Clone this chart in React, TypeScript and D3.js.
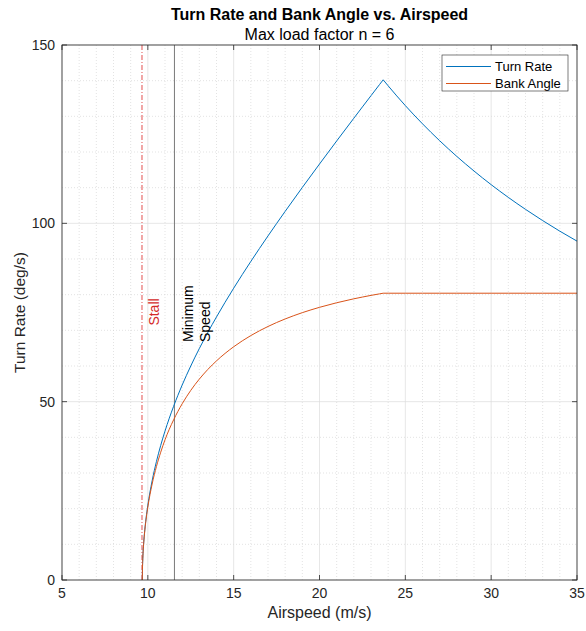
import React from "react";
import * as d3 from "d3";

// ---- data ----
const airspeed = [9.68, 9.69, 9.7, 9.75, 9.8, 9.9, 10, 10.25, 10.5, 10.75, 11, 11.5, 12, 12.5, 13, 13.5, 14, 15, 16, 17, 18, 19, 20, 21, 22, 22.5, 23, 23.5, 23.71, 24, 25, 26, 27, 28, 29, 30, 31, 32, 33, 34, 35];
const turnRate = [0, 3.73, 5.28, 9.86, 12.9, 17.42, 20.96, 27.81, 33.19, 37.74, 41.75, 48.68, 54.66, 60.0, 64.9, 69.46, 73.76, 81.81, 89.32, 96.47, 103.36, 110.07, 116.63, 123.09, 129.47, 132.64, 135.79, 138.93, 140.24, 138.55, 133.01, 127.9, 123.16, 118.76, 114.67, 110.84, 107.27, 103.92, 100.77, 97.8, 95.01];
const bankAngle = [0, 3.68, 5.2, 9.7, 12.67, 17.06, 20.45, 26.9, 31.8, 35.82, 39.3, 44.89, 49.4, 53.16, 56.33, 59.06, 61.44, 65.39, 68.53, 71.08, 73.19, 74.96, 76.45, 77.73, 78.84, 79.33, 79.8, 80.23, 80.41, 80.41, 80.41, 80.41, 80.41, 80.41, 80.41, 80.41, 80.41, 80.41, 80.41, 80.41, 80.41];
const cornerSpeed = 23.71;
const stallSpeed = 9.66;
const minimumSpeed = 11.55;
const xTicks = [5, 10, 15, 20, 25, 30, 35];
const yTicks = [0, 50, 100, 150];
const seriesNames = ["Turn Rate", "Bank Angle"];
const titleText = "Turn Rate and Bank Angle vs. Airspeed";
const subtitleText = "Max load factor n = 6";

const W = 586, H = 631;
const M = { left: 62, right: 9, top: 45, bottom: 51 };
const FONT = "'Liberation Sans', Arial, Helvetica, sans-serif";
const BLUE = "#0072BD";
const ORANGE = "#D95319";
const AX = "#262626";

export default function App() {
  const x = d3.scaleLinear().domain([5, 35]).range([M.left, W - M.right]);
  const y = d3.scaleLinear().domain([0, 150]).range([H - M.bottom, M.top]);
  const x0 = M.left, x1 = W - M.right, y0 = H - M.bottom, y1 = M.top;

  const minorX = d3.range(5, 35.001, 1).filter((v) => v % 5 !== 0);
  const minorY = d3.range(0, 150.001, 10).filter((v) => v % 50 !== 0);

  const pts = (vals: number[]) => airspeed.map((v, i) => [v, vals[i]] as [number, number]);
  const line = d3
    .line<[number, number]>()
    .x((d) => x(d[0]))
    .y((d) => y(d[1]))
    .curve(d3.curveMonotoneX);
  const seg = (vals: number[]) => {
    const p = pts(vals);
    const a = p.filter((d) => d[0] <= cornerSpeed);
    const b = p.filter((d) => d[0] >= cornerSpeed);
    return (line(a) || "") + (line(b) || "");
  };

  return (
    <svg width={W} height={H} style={{ position: "absolute", left: 0, top: 0, background: "#fff" }} fontFamily={FONT}>
      <rect x={0} y={0} width={W} height={H} fill="#fff" />
      {/* minor grid */}
      {minorX.map((v) => (
        <line key={"mx" + v} x1={x(v)} x2={x(v)} y1={y0} y2={y1} stroke="#d0d0d0" strokeWidth={0.6} strokeDasharray="1,2" />
      ))}
      {minorY.map((v) => (
        <line key={"my" + v} x1={x0} x2={x1} y1={y(v)} y2={y(v)} stroke="#d0d0d0" strokeWidth={0.6} strokeDasharray="1,2" />
      ))}
      {/* major grid */}
      {xTicks.map((v) => (
        <line key={"gx" + v} x1={x(v)} x2={x(v)} y1={y0} y2={y1} stroke="#dcdcdc" strokeWidth={0.7} />
      ))}
      {yTicks.map((v) => (
        <line key={"gy" + v} x1={x0} x2={x1} y1={y(v)} y2={y(v)} stroke="#dcdcdc" strokeWidth={0.7} />
      ))}

      {/* stall & minimum speed lines */}
      <line x1={x(stallSpeed)} x2={x(stallSpeed)} y1={y0} y2={y1} stroke="#d22" strokeWidth={0.8} strokeDasharray="5,2,1,2" />
      <line x1={x(minimumSpeed)} x2={x(minimumSpeed)} y1={y0} y2={y1} stroke="#7a7a7a" strokeWidth={1} />

      {/* series */}
      <path d={seg(turnRate)} fill="none" stroke={BLUE} strokeWidth={1} />
      <path d={seg(bankAngle)} fill="none" stroke={ORANGE} strokeWidth={1} />

      {/* annotations */}
      <text transform={`translate(${x(stallSpeed) + 17},${312}) rotate(-90)`} textAnchor="middle" fontSize={14} fill="#d42a2a">
        Stall
      </text>
      <text transform={`translate(${x(minimumSpeed) + 19},${342}) rotate(-90)`} textAnchor="start" fontSize={14} fill="#000">
        Minimum
      </text>
      <text transform={`translate(${x(minimumSpeed) + 36},${342}) rotate(-90)`} textAnchor="start" fontSize={14} fill="#000">
        Speed
      </text>

      {/* axes box */}
      <rect x={x0} y={y1} width={x1 - x0} height={y0 - y1} fill="none" stroke={AX} strokeWidth={0.8} />
      {xTicks.map((v) => (
        <g key={"xt" + v}>
          <line x1={x(v)} x2={x(v)} y1={y0} y2={y0 - 5} stroke={AX} strokeWidth={0.8} />
          <line x1={x(v)} x2={x(v)} y1={y1} y2={y1 + 5} stroke={AX} strokeWidth={0.8} />
          <text x={x(v)} y={y0 + 18} textAnchor="middle" fontSize={14} fill={AX}>
            {v}
          </text>
        </g>
      ))}
      {yTicks.map((v) => (
        <g key={"yt" + v}>
          <line x1={x0} x2={x0 + 5} y1={y(v)} y2={y(v)} stroke={AX} strokeWidth={0.8} />
          <line x1={x1} x2={x1 - 5} y1={y(v)} y2={y(v)} stroke={AX} strokeWidth={0.8} />
          <text x={x0 - 7} y={y(v) + 5} textAnchor="end" fontSize={14} fill={AX}>
            {v}
          </text>
        </g>
      ))}

      {/* axis labels */}
      <text x={(x0 + x1) / 2} y={y0 + 38} textAnchor="middle" fontSize={16} fill={AX}>
        Airspeed (m/s)
      </text>
      <text transform={`translate(${25},${(y0 + y1) / 2}) rotate(-90)`} textAnchor="middle" fontSize={15.5} fill={AX}>
        Turn Rate (deg/s)
      </text>

      {/* titles */}
      <text x={(x0 + x1) / 2} y={20} textAnchor="middle" fontSize={16} fontWeight="bold" fill="#000">
        {titleText}
      </text>
      <text x={(x0 + x1) / 2} y={39.5} textAnchor="middle" fontSize={16} fill="#000">
        {subtitleText}
      </text>

      {/* legend */}
      <g>
        <rect x={442} y={55} width={126} height={36} fill="#fff" stroke="#262626" strokeWidth={0.6} />
        {seriesNames.map((n, i) => (
          <g key={n}>
            <line x1={446} x2={491} y1={66.5 + i * 17} y2={66.5 + i * 17} stroke={i === 0 ? BLUE : ORANGE} strokeWidth={1} />
            <text x={495} y={71 + i * 17} fontSize={13} fill="#000">
              {n}
            </text>
          </g>
        ))}
      </g>
    </svg>
  );
}
